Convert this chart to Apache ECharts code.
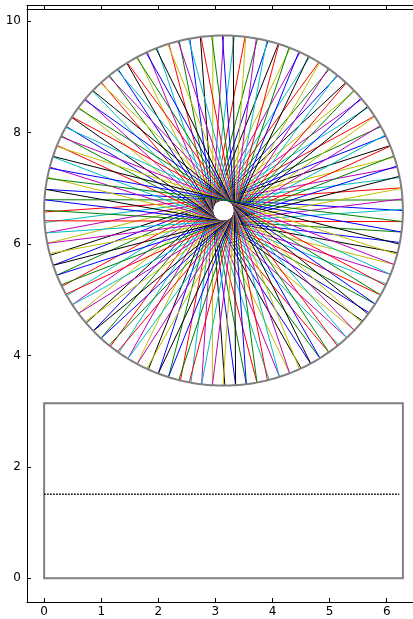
<!DOCTYPE html>
<html>
<head>
<meta charset="utf-8">
<script src="https://cdn.jsdelivr.net/npm/echarts@6/dist/echarts.min.js"></script>
<style>
html, body { margin: 0; padding: 0; background: #fff; overflow: hidden; }
#main { width: 420px; height: 619px; }
</style>
</head>
<body>
<div id="main"></div>
<script>
var chartDom = document.getElementById('main');
var myChart = echarts.init(chartDom);
var option;

// chord start angles (x of the dots in the lower box)
var thetas = [
  0.00, 0.06, 0.13, 0.19, 0.25, 0.31, 0.38, 0.44, 0.50, 0.57,
  0.63, 0.69, 0.75, 0.82, 0.88, 0.94, 1.01, 1.07, 1.13, 1.19,
  1.26, 1.32, 1.38, 1.45, 1.51, 1.57, 1.63, 1.70, 1.76, 1.82,
  1.88, 1.95, 2.01, 2.07, 2.14, 2.20, 2.26, 2.32, 2.39, 2.45,
  2.51, 2.58, 2.64, 2.70, 2.76, 2.83, 2.89, 2.95, 3.02, 3.08,
  3.14, 3.20, 3.27, 3.33, 3.39, 3.46, 3.52, 3.58, 3.64, 3.71,
  3.77, 3.83, 3.90, 3.96, 4.02, 4.08, 4.15, 4.21, 4.27, 4.34,
  4.40, 4.46, 4.52, 4.59, 4.65, 4.71, 4.78, 4.84, 4.90, 4.96,
  5.03, 5.09, 5.15, 5.22, 5.28, 5.34, 5.40, 5.47, 5.53, 5.59,
  5.65, 5.72, 5.78, 5.84, 5.91, 5.97, 6.03, 6.09, 6.16, 6.22
];
// half angle of every chord (y of the dots)
var halfAngle = 1.51;

// big circle and parameter box
var circleCenter = [3.1416, 6.6];
var circleRadius = 3.1416;
var boxX = [0, 6.2832];
var boxY = [0, 3.1416];

// matplotlib classic colour cycle
var cycle = ['#0000ff', '#008000', '#ff0000', '#00bfbf', '#bf00bf', '#bfbf00', '#000000'];

var xRange = [-0.3, 6.583];
var yRange = [-0.425, 10.217];

var chordData = thetas.map(function (t) { return [t, halfAngle]; });
var dotData = thetas.map(function (t) { return [t, halfAngle]; });

function onCircle(a) {
  return [circleCenter[0] + circleRadius * Math.cos(a), circleCenter[1] + circleRadius * Math.sin(a)];
}

var tickFont = { fontFamily: 'DejaVu Sans', fontSize: 12, color: '#000' };
var axisLineStyle = { show: true, onZero: false, lineStyle: { color: '#000', width: 1 } };
var tickStyle = { inside: true, length: 4, lineStyle: { color: '#000' } };

option = {
  animation: false,
  backgroundColor: '#fff',
  grid: { left: 27, right: 0, top: 9, bottom: 17 },
  xAxis: [
    {
      type: 'value', position: 'bottom', min: xRange[0], max: xRange[1],
      axisLine: axisLineStyle,
      axisTick: tickStyle,
      axisLabel: Object.assign({ margin: 4, showMinLabel: false, showMaxLabel: false }, tickFont),
      splitLine: { show: false }
    },
    {
      type: 'value', position: 'top', min: xRange[0], max: xRange[1],
      axisLine: axisLineStyle,
      axisTick: { inside: false, length: 4, lineStyle: { color: '#000' } },
      axisLabel: { show: false },
      splitLine: { show: false }
    },
    {
      // outer frame line above the top ticks
      type: 'value', position: 'top', offset: 4, min: xRange[0], max: xRange[1],
      axisLine: axisLineStyle,
      axisTick: { show: false },
      axisLabel: { show: false },
      splitLine: { show: false }
    }
  ],
  yAxis: [
    {
      type: 'value', position: 'left', min: yRange[0], max: yRange[1],
      axisLine: axisLineStyle,
      axisTick: tickStyle,
      axisLabel: Object.assign({ margin: 6, showMinLabel: false, showMaxLabel: false }, tickFont),
      splitLine: { show: false }
    }
  ],
  series: [
    {
      // chords
      type: 'custom',
      data: chordData,
      clip: false,
      z: 2,
      renderItem: function (params, api) {
        var t = api.value(0);
        var h = api.value(1);
        var p1 = api.coord(onCircle(t));
        var p2 = api.coord(onCircle(t + 2 * h));
        return {
          type: 'line',
          shape: { x1: p1[0], y1: p1[1], x2: p2[0], y2: p2[1] },
          style: { stroke: cycle[params.dataIndex % cycle.length], lineWidth: 1 }
        };
      }
    },
    {
      // circle outline
      type: 'custom',
      data: [circleCenter],
      clip: false,
      z: 3,
      renderItem: function (params, api) {
        var pts = [];
        for (var i = 0; i < 360; i++) {
          pts.push(api.coord(onCircle(i / 360 * 2 * Math.PI)));
        }
        return {
          type: 'polygon',
          shape: { points: pts },
          style: { fill: null, stroke: '#808080', lineWidth: 2 }
        };
      }
    },
    {
      // parameter box
      type: 'custom',
      data: [[boxX[0], boxY[0], boxX[1], boxY[1]]],
      clip: false,
      z: 3,
      renderItem: function (params, api) {
        var a = api.coord([api.value(0), api.value(1)]);
        var b = api.coord([api.value(2), api.value(3)]);
        return {
          type: 'rect',
          shape: { x: a[0], y: b[1], width: b[0] - a[0], height: a[1] - b[1] },
          style: { fill: null, stroke: '#808080', lineWidth: 2 }
        };
      }
    },
    {
      // dots of the chords' parameters
      type: 'line',
      data: dotData,
      showSymbol: false,
      z: 4,
      lineStyle: { color: '#000', width: 1.6, type: [1.6, 1.4] }
    }
  ]
};

option && myChart.setOption(option);
</script>
</body>
</html>
